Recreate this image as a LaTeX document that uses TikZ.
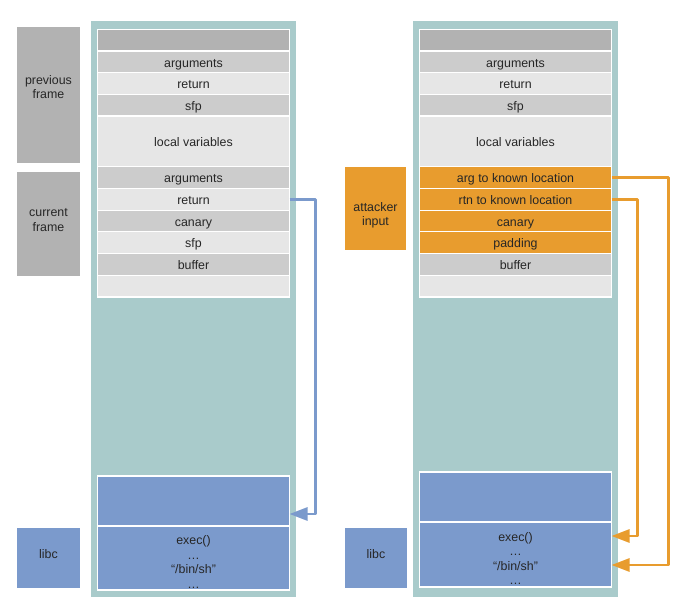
\documentclass[tikz,border=0pt]{standalone}
\usepackage{fontspec}
\setmainfont{Liberation Sans}
\usetikzlibrary{arrows.meta}
\usetikzlibrary{positioning}
\definecolor{stackbg}{HTML}{A9CBCB}
\definecolor{darkslot}{HTML}{B2B2B2}
\definecolor{midslot}{HTML}{CCCCCC}
\definecolor{lightslot}{HTML}{E6E6E6}
\definecolor{attack}{HTML}{E89C2E}
\definecolor{libcblue}{HTML}{7B9ACC}
\tikzset{slot/.style = {draw = white, line width = 1.2pt, outer sep = 0pt, inner sep = 0pt,
                        minimum width = 192pt, minimum height = 21.7pt, text = black!85,
                        text height = 13pt, text depth = 2.6pt,
                        font = \fontsize{12.4}{15}\selectfont}}
\tikzset{block/.style = {inner sep = 0pt, outer sep = 0pt, anchor = north}}
\tikzset{words/.style = {inner sep = 0pt, align = center, text = black!85,
                         font = \fontsize{12.4}{14.4}\selectfont}}
\tikzset{jump/.style = {line width = 2.8pt, line join = round,
                        -{Triangle[length = 18pt, width = 13pt]}}}

\begin{document}
\begin{tikzpicture}[x = 1pt, y = -1pt]
      \useasboundingbox (0, 0) rectangle (678, 609);

      \node [block, fill = darkslot, minimum width = 63pt, minimum height = 136pt] (prev) at (48.5, 27) {};
      \node [words] (prevtext) at ([yshift = 8pt] prev.center) {previous\\frame};
      \node [block, fill = darkslot, minimum width = 63pt, minimum height = 104pt] (curr) at (48.5, 172) {};
      \node [words] (currtext) at ([yshift = 4pt] curr.center) {current\\frame};
      \node [block, fill = libcblue, minimum width = 63pt, minimum height = 60pt] (llibcside) at (48.5, 528) {};
      \node [words] (llibctext) at ([yshift = 4pt] llibcside.center) {libc};
      \node [block, fill = attack, minimum width = 61pt, minimum height = 83pt] (attacker) at (375.5, 167) {};
      \node [words] (attackertext) at ([yshift = -7pt] attacker.center) {attacker\\input};
      \node [block, fill = libcblue, minimum width = 62pt, minimum height = 60pt] (rlibcside) at (376, 528) {};
      \node [words] (rlibctext) at ([yshift = 4pt] rlibcside.center) {libc};

      \fill [stackbg] (91, 21) rectangle (296, 597);
      \node [slot, fill = darkslot, anchor = north] (l0) at (193.5, 29.3) {};
      \node [slot, fill = midslot, below = 0pt of l0] (largs) {arguments};
      \node [slot, fill = lightslot, below = 0pt of largs] (lret) {return};
      \node [slot, fill = midslot, below = 0pt of lret] (lsfp) {sfp};
      \node [slot, fill = lightslot, minimum height = 50.7pt, below = 0pt of lsfp] (llocal) {local variables};
      \node [slot, fill = midslot, below = 0pt of llocal] (lcargs) {arguments};
      \node [slot, fill = lightslot, below = 0pt of lcargs] (lcret) {return};
      \node [slot, fill = midslot, below = 0pt of lcret] (lcanary) {canary};
      \node [slot, fill = lightslot, below = 0pt of lcanary] (lcsfp) {sfp};
      \node [slot, fill = midslot, below = 0pt of lcsfp] (lbuf) {buffer};
      \node [slot, fill = lightslot, below = 0pt of lbuf] (lend) {};
      \node [slot, fill = libcblue, minimum height = 50pt, anchor = north] (lfree) at (193.5, 476) {};
      \node [slot, fill = libcblue, minimum height = 64pt, below = 0pt of lfree] (llibc) {};
      \node [words] (lcode) at ([yshift = -4pt] llibc.center) {exec()\\…\\“/bin/sh”\\…};

      \fill [stackbg] (413, 21) rectangle (618, 597);
      \node [slot, fill = darkslot, anchor = north] (r0) at (515.5, 29.3) {};
      \node [slot, fill = midslot, below = 0pt of r0] (rargs) {arguments};
      \node [slot, fill = lightslot, below = 0pt of rargs] (rret) {return};
      \node [slot, fill = midslot, below = 0pt of rret] (rsfp) {sfp};
      \node [slot, fill = lightslot, minimum height = 50.7pt, below = 0pt of rsfp] (rlocal) {local variables};
      \node [slot, fill = attack, below = 0pt of rlocal] (rarg) {arg to known location};
      \node [slot, fill = attack, below = 0pt of rarg] (rrtn) {rtn to known location};
      \node [slot, fill = attack, below = 0pt of rrtn] (rcanary) {canary};
      \node [slot, fill = attack, below = 0pt of rcanary] (rpad) {padding};
      \node [slot, fill = midslot, below = 0pt of rpad] (rbuf) {buffer};
      \node [slot, fill = lightslot, below = 0pt of rbuf] (rend) {};
      \node [slot, fill = libcblue, minimum height = 50pt, anchor = north] (rfree) at (515.5, 472) {};
      \node [slot, fill = libcblue, minimum height = 65pt, below = 0pt of rfree] (rlibc) {};
      \node [words] (rcode) at ([yshift = -4pt] rlibc.center) {exec()\\…\\“/bin/sh”\\…};

      \coordinate (lhit) at (289.5, 514);
      \coordinate (rexec) at (611.5, 536);
      \coordinate (rsh) at (611.5, 565);
      \draw [jump, libcblue] (lcret.east) -- ++(26, 0) |- (lhit);
      \draw [jump, attack] (rrtn.east) -- ++(26, 0) |- (rexec);
      \draw [jump, attack] (rarg.east) -- ++(57, 0) |- (rsh);
    \end{tikzpicture}
\end{document}
